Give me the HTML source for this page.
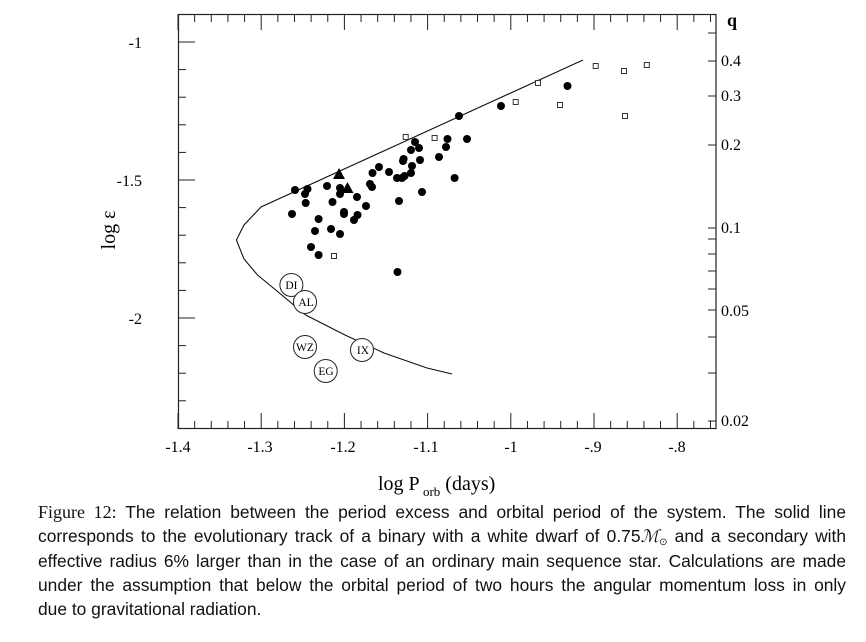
<!DOCTYPE html>
<html><head><meta charset="utf-8"><style>
html,body{margin:0;padding:0;background:#fff;width:866px;height:642px;overflow:hidden}
svg{position:absolute;left:0;top:0}
#cap{position:absolute;left:38px;top:500px;width:808px;font-family:"Liberation Sans",sans-serif;font-size:17.4px;line-height:24.3px;color:#111;text-align:justify}
#cap .l{text-align-last:justify;display:block;white-space:nowrap}
#cap .f{font-family:"Liberation Serif",serif;font-size:18px}
#cap sub{font-size:10px;line-height:0;vertical-align:-3px}
</style></head><body>
<svg id="s" width="866" height="500" xmlns="http://www.w3.org/2000/svg" font-family="Liberation Serif, serif" fill="#000">
<rect x="178.5" y="14.5" width="537.5" height="414" fill="none" stroke="#222" stroke-width="1.2"/>
<g id="ticks" stroke="#222" stroke-width="1"></g>
<g font-size="16" text-anchor="end">
<text x="142" y="48">-1</text><text x="142" y="186">-1.5</text><text x="142" y="324">-2</text>
</g>
<g font-size="16" text-anchor="middle">
<text x="178" y="452">-1.4</text><text x="260" y="452">-1.3</text><text x="343" y="452">-1.2</text><text x="426" y="452">-1.1</text><text x="511" y="452">-1</text><text x="593" y="452">-.9</text><text x="677" y="452">-.8</text>
</g>
<g font-size="16">
<text x="721" y="66">0.4</text><text x="721" y="101">0.3</text><text x="721" y="150">0.2</text><text x="721" y="233">0.1</text><text x="721" y="316">0.05</text><text x="721" y="426">0.02</text>
<text x="727" y="26" font-weight="bold" font-size="18">q</text>
</g>
<text transform="translate(115,230) rotate(-90)" font-size="20" text-anchor="middle">log ε</text>
<text x="378" y="490" font-size="20">log P<tspan font-size="13" dy="6"> orb</tspan><tspan dy="-6">  (days)</tspan></text>
<polyline fill="none" stroke="#111" stroke-width="1.1" points="583,60 261,207 244,225 236.4,240 244,259 257.5,275 277,291 305.7,315 345,335 384,353 427,368 452,374"/>
<g id="pts"></g>
<g fill="#fff" stroke="#222" stroke-width="1">
<circle cx="291.4" cy="285" r="11.5"/><circle cx="305" cy="302" r="11.5"/><circle cx="305" cy="347" r="11.5"/><circle cx="362" cy="350" r="11.5"/><circle cx="325.7" cy="371" r="11.5"/>
</g>
<g font-size="11.5" text-anchor="middle">
<text x="291.4" y="289">DI</text><text x="306" y="306">AL</text><text x="305" y="351">WZ</text><text x="363" y="354">IX</text><text x="326" y="375">EG</text>
</g>
</svg>
<div id="cap"><span class="l"><span class="f">Figure 12:</span> The relation between the period excess and orbital period of the system. The solid line</span><span class="l">corresponds to the evolutionary track of a binary with a white dwarf of 0.75<i style="font-family:'Liberation Serif',serif">ℳ</i><sub>⊙</sub> and a secondary with</span><span class="l">effective radius 6% larger than in the case of an ordinary main sequence star. Calculations are made</span><span class="l">under the assumption that below the orbital period of two hours the angular momentum loss in only</span>due to gravitational radiation.</div>
<script>
var NS="http://www.w3.org/2000/svg";
function el(p,t,a){var e=document.createElementNS(NS,t);for(var k in a)e.setAttribute(k,a[k]);p.appendChild(e);return e;}
var T=document.getElementById("ticks");
function X(v){return 178+(v+1.4)*832;}
for(var i=0;i<=32;i++){var v=-1.4+i*0.02;var x=X(v);if(x>716)break;var maj=(i%5==0);var L=maj?16:8;
el(T,"line",{x1:x,y1:429,x2:x,y2:429-L});el(T,"line",{x1:x,y1:14,x2:x,y2:14+L});}
for(var i=0;i<=15;i++){var y=42+i*27.6-27.6;if(y<15||y>428)continue;var maj=((i-1)%5==0);var L=maj?17:8;el(T,"line",{x1:178,y1:y,x2:178+L,y2:y});}
[33,61,96,145,228,239,254,271,289,310,337,373,421].forEach(function(y){el(T,"line",{x1:716,y1:y,x2:708,y2:y});});
var P=document.getElementById("pts");
[[295,190],[307.5,189],[305,194],[305.7,203],[292,214],[327,186],[340,188],[340,194],[332.5,202],[357,197],[344,212],[344,214],[366,206],[357.5,215],[354,220],[318.6,219],[315,231],[331,229],[340,234],[311,247],[318.6,255],[370,184],[372,187],[372.5,173],[379,167],[389,172],[397,178],[402,178],[404.6,176],[403,161],[403.6,159],[412,166],[411,173],[411,150],[415,142],[419,148],[420,160],[399,201],[422,192],[439,157],[446,147],[447.5,139],[454.6,178],[467,139],[397.5,272],[459,116],[501,106],[567.5,86]].forEach(function(p){el(P,"circle",{cx:p[0],cy:p[1],r:4});});
[[339,174],[347.5,188]].forEach(function(p){el(P,"polygon",{points:(p[0]-6)+","+(p[1]+5)+" "+(p[0]+6)+","+(p[1]+5)+" "+p[0]+","+(p[1]-6)});});
[[405.7,137],[434.6,138],[515.7,102],[538,83],[560,105],[595.7,66],[624,71],[646.8,65],[625,116],[334,256]].forEach(function(p){el(P,"rect",{x:p[0]-2.5,y:p[1]-2.5,width:5,height:5,fill:"#fff",stroke:"#333","stroke-width":1});});
</script>
</body></html>
